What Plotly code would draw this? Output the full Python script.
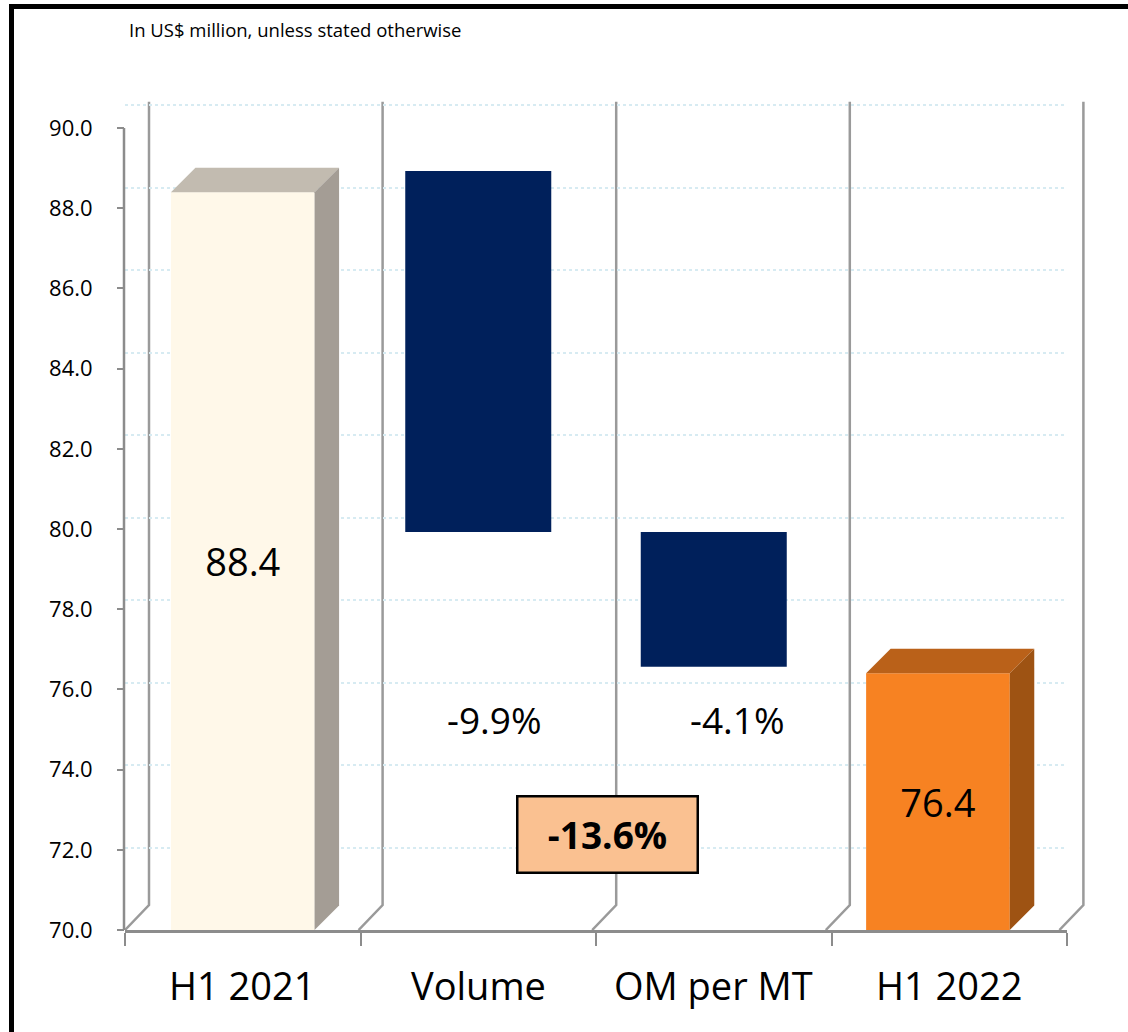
import plotly.graph_objects as go

# ---- data ----
categories = ["H1 2021", "Volume", "OM per MT", "H1 2022"]
start_value = 88.4
end_value = 76.4
step_pct = [-9.9, -4.1]          # Volume, OM per MT
total_pct = -13.6
unit_note = "In US$ million, unless stated otherwise"
y_ticks = [70.0, 72.0, 74.0, 76.0, 78.0, 80.0, 82.0, 84.0, 86.0, 88.0, 90.0]

# ---- waterfall levels from the percentage steps ----
levels = [start_value]
for p in step_pct:
    levels.append(levels[-1] * (1 + p / 100.0))
step_tops = levels[:-1]
step_bottoms = levels[1:]

# ---- geometry / style ----
W, H = 1128, 1032
L, R, T, B = 125, 61, 101, 102
plot_w = W - L - R
plot_h = H - T - B
floor = 70.0
back_top = 90.1                      # back plane (grid + floating bars)
front_px_per_unit = 40.1
front_top = floor + plot_h / front_px_per_unit   # front plane (axis + solid bars)
px_x = plot_w / 4.0                  # px per category
depth_px = 24.5
dx = depth_px / px_x
dy = depth_px / front_px_per_unit

FONT = "Open Sans"
NAVY = "#00205B"
solid_styles = [
    dict(front="#FFF8E9", top="#C2BBB0", side="#A49D95"),
    dict(front="#F78222", top="#BA6119", side="#9E5313"),
]
solid_idx = [0, 3]
solid_vals = [start_value, end_value]
solid_w = 0.61
solid_x = [i - 0.016 * i for i in solid_idx]


def px_to_paper_x(px):
    return (px - L) / plot_w


def px_to_paper_y(py):
    return (H - B - py) / plot_h


fig = go.Figure()

# floating step bars (back plane)
fig.add_trace(go.Bar(
    x=[1, 2], y=[t - b for t, b in zip(step_tops, step_bottoms)], base=step_bottoms,
    width=0.62, marker=dict(color=NAVY, line=dict(width=0)),
    xaxis="x", yaxis="y", showlegend=False, hoverinfo="skip",
))

# solid bars (front plane)
for xi, v, st in zip(solid_x, solid_vals, solid_styles):
    fig.add_trace(go.Bar(
        x=[xi], y=[v - floor], base=[floor], width=solid_w,
        marker=dict(color=st["front"], line=dict(width=0)),
        text=[f"{v:.1f}"], textposition="inside", insidetextanchor="middle",
        textfont=dict(family=FONT, size=38, color="black"),
        xaxis="x", yaxis="y2", showlegend=False, hoverinfo="skip",
    ))

shapes = []
# back wall verticals with floor diagonals (paper x so the right edge is not clipped)
back_dx_px = 24.0
back_lift = 25.0 / (plot_h / (back_top - floor))
for k in range(5):
    xb_px = L + 24.0 + k * 233.6
    xb = px_to_paper_x(xb_px)
    xf = px_to_paper_x(xb_px - back_dx_px)
    shapes.append(dict(
        type="path", xref="paper", yref="y", layer="between",
        path=f"M {xf},{floor} L {xb},{floor + back_lift} L {xb},{back_top - 0.02}",
        line=dict(color="#9A9A9A", width=2.5),
    ))

# 3D top and side faces of the solid bars
for xi, v, st in zip(solid_x, solid_vals, solid_styles):
    x0, x1 = xi - solid_w / 2, xi + solid_w / 2
    shapes.append(dict(
        type="path", xref="x", yref="y2", layer="above",
        path=f"M {x0},{v} L {x1},{v} L {x1 + dx},{v + dy} L {x0 + dx},{v + dy} Z",
        fillcolor=st["top"], line=dict(width=0),
    ))
    shapes.append(dict(
        type="path", xref="x", yref="y2", layer="above",
        path=f"M {x1},{floor} L {x1},{v} L {x1 + dx},{v + dy} L {x1 + dx},{floor + dy} Z",
        fillcolor=st["side"], line=dict(width=0),
    ))

# front value axis line
shapes.append(dict(
    type="line", xref="paper", yref="y2", x0=-1.0 / plot_w, x1=-1.0 / plot_w,
    y0=floor, y1=y_ticks[-1], line=dict(color="#8C8C8C", width=2.5),
))

# outer frame
shapes.append(dict(
    type="rect", xref="paper", yref="paper",
    x0=px_to_paper_x(11.5), x1=px_to_paper_x(W + 20),
    y0=px_to_paper_y(H + 20), y1=px_to_paper_y(6.5),
    line=dict(color="black", width=5), fillcolor="rgba(0,0,0,0)",
))

annotations = []
# category labels
for i, c in enumerate(categories):
    annotations.append(dict(
        x=i, y=px_to_paper_y(985), xref="x", yref="paper", text=c, showarrow=False,
        xanchor="center", yanchor="middle", font=dict(family=FONT, size=38, color="black"),
    ))
# step labels
for xi, p in zip([1.07, 2.1], step_pct):
    annotations.append(dict(
        x=xi, y=75.1, xref="x", yref="y", text=f"{p:.1f}%", showarrow=False,
        xanchor="center", yanchor="middle", font=dict(family=FONT, size=37, color="black"),
    ))
# total change box
annotations.append(dict(
    x=1.547, y=72.32, xref="x", yref="y", text=f"<b>{total_pct:.1f}%</b>", showarrow=False,
    xanchor="center", yanchor="middle", font=dict(family=FONT, size=37, color="black"),
    bgcolor="#FAC191", bordercolor="black", borderwidth=2.5, borderpad=0,
    width=178, height=74,
))
# unit note
annotations.append(dict(
    x=px_to_paper_x(127), y=px_to_paper_y(30), xref="paper", yref="paper", text=unit_note,
    showarrow=False, xanchor="left", yanchor="middle",
    font=dict(family=FONT, size=18.5, color="black"),
))

fig.update_layout(
    width=W, height=H, margin=dict(l=L, r=R, t=T, b=B),
    paper_bgcolor="white", plot_bgcolor="white",
    barmode="overlay", showlegend=False,
    shapes=shapes, annotations=annotations,
    xaxis=dict(
        range=[-0.5, 3.5], tickvals=[-0.5, 0.5, 1.5, 2.5, 3.5], ticktext=[""] * 5,
        ticks="outside", ticklen=13, tickwidth=2, tickcolor="#8C8C8C",
        showline=True, linecolor="#8C8C8C", linewidth=2.5,
        showgrid=False, zeroline=False, fixedrange=True,
    ),
    yaxis=dict(
        range=[floor, back_top], tickvals=y_ticks, showticklabels=False, ticks="",
        showgrid=True, gridcolor="#D7EBF2", gridwidth=2, griddash="dot",
        zeroline=False, showline=False, fixedrange=True,
    ),
    yaxis2=dict(
        range=[floor, front_top], overlaying="y", side="left",
        tickvals=y_ticks, ticktext=[f"{v:.1f}" for v in y_ticks],
        ticks="outside", ticklen=7, tickwidth=2, tickcolor="#8C8C8C",
        ticklabelstandoff=20,
        tickfont=dict(family=FONT, size=22, color="black"),
        showgrid=False, zeroline=False, showline=False, fixedrange=True,
    ),
)

fig.write_html("out.html")
